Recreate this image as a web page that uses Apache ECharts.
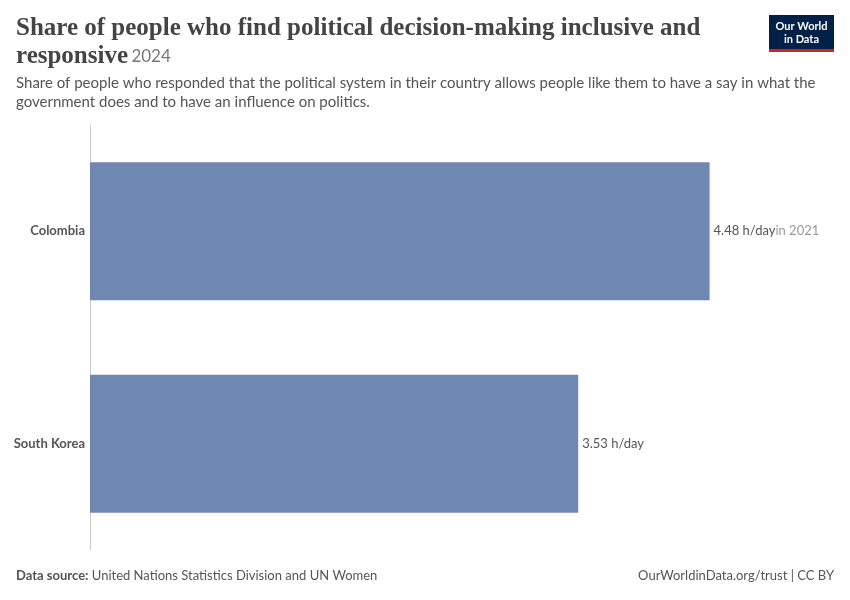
<!DOCTYPE html>
<html><head><meta charset="utf-8">
<script src="https://cdn.jsdelivr.net/npm/echarts@6/dist/echarts.min.js"></script>
<style>body{margin:0}#c{width:850px;height:600px}</style></head>
<body><div id="c"></div>
<script>
const categories = ['South Korea', 'Colombia'];
const values = [3.53, 4.48];
const yearNotes = ['', 'in 2021'];
const chart = echarts.init(document.getElementById('c'));
chart.setOption({
  backgroundColor: '#fff',
  animation: false,
  graphic: [
    {type:'text', left:16, top:16, style:{text:'Share of people who find political decision-making inclusive and', font:'bold 25px "Liberation Serif", serif', fill:'#444'}},
    {type:'text', left:16, top:44, style:{rich:{a:{font:'bold 25px "Liberation Serif", serif', fill:'#444'}, b:{font:'17px Lato', fill:'#777'}}, text:'{a|responsive} {b|2024}'}},
    {type:'text', left:16, top:74, style:{text:'Share of people who responded that the political system in their country allows people like them to have a say in what the\ngovernment does and to have an influence on politics.', font:'15px Lato', fill:'#555', lineHeight:19}},
    {type:'rect', shape:{x:769, y:15, width:65, height:37}, style:{fill:'#002147'}},
    {type:'rect', shape:{x:769, y:49, width:65, height:3}, style:{fill:'#ce261e'}},
    {type:'text', x:801.5, y:20, style:{text:'Our World\nin Data', font:'bold 11px Lato', fill:'#fff', align:'center', lineHeight:13}},
    {type:'text', left:16, top:569, style:{rich:{a:{font:'bold 13px Lato', fill:'#555'}, b:{font:'13px Lato', fill:'#555'}}, text:'{a|Data source:} {b|United Nations Statistics Division and UN Women}'}},
    {type:'text', right:16, top:569, style:{text:'OurWorldinData.org/trust | CC BY', font:'13px Lato', fill:'#555'}}
  ],
  grid: {left:90, right:68.5, top:125, bottom:50},
  xAxis: {type:'value', min:0, max:5, show:false},
  yAxis: {type:'category', data:categories, axisTick:{show:false},
    axisLine:{lineStyle:{color:'#ccc'}},
    axisLabel:{fontFamily:'Lato', fontSize:13, fontWeight:'bold', color:'#555', margin:5}},
  series: [{type:'bar', barWidth:138, itemStyle:{color:'#6f88b1'},
    data: values.map((v,i)=>({value:v, note:yearNotes[i]})),
    label:{show:true, position:'right', distance:4,
      formatter: p => '{v|' + p.value.toFixed(2) + ' h/day}' + (p.data.note ? '{n|' + p.data.note + '}' : ''),
      rich:{v:{fontFamily:'Lato', fontSize:13, color:'#555'}, n:{fontFamily:'Lato', fontSize:13, color:'#999'}}}
  }]
});
</script></body></html>
